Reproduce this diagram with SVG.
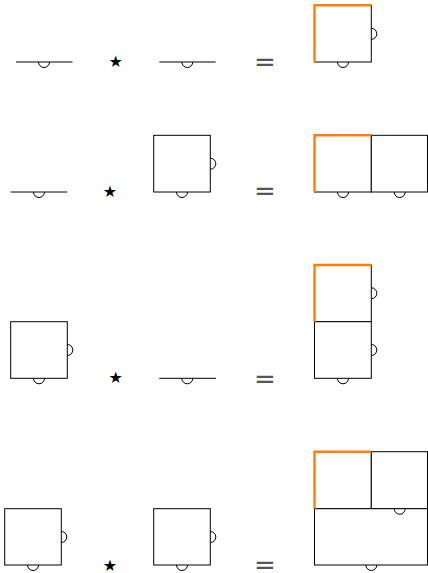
<svg xmlns="http://www.w3.org/2000/svg" width="428" height="573" viewBox="0 0 428 573">
<style>
.ln{fill:none;stroke:#000;stroke-width:1}
.bx{fill:#fff;stroke:#000;stroke-width:1}
.hl{fill:none;stroke:#ff8000;stroke-width:2.4;stroke-linecap:butt}
.op{font-family:"DejaVu Sans",sans-serif;fill:#000;text-anchor:middle}
.eq{font-family:"DejaVu Sans",sans-serif;fill:#555;text-anchor:middle}
</style>
<rect width="428" height="573" fill="#fff"/>

<!-- Row 1 -->
<g id="r1-left">
  <path class="ln" d="M16,62 H72.5 M38.5,62 A5.5,5.5 0 0 0 49.5,62"/>
</g>
<g id="r1-star"><text class="op" x="115.7" y="67" font-size="16">★</text></g>
<g id="r1-mid">
  <path class="ln" d="M159.3,62 H215.7 M181.8,62 A5.5,5.5 0 0 0 192.8,62"/>
</g>
<g id="r1-eq"><text class="eq" x="265" y="71" font-size="26">=</text></g>
<g id="r1-result">
  <rect class="bx" x="314.5" y="5.3" width="56.8" height="56.7"/>
  <path class="ln" d="M371.3,28.3 A5.5,5.5 0 0 1 371.3,39.3 M337.5,62 A5.5,5.5 0 0 0 348.5,62"/>
  <path class="hl" d="M314.5,62 V5.3 H371.3"/>
</g>

<!-- Row 2 -->
<g id="r2-left">
  <path class="ln" d="M10.7,192 H67.3 M33.5,192 A5.5,5.5 0 0 0 44.5,192"/>
</g>
<g id="r2-star"><text class="op" x="110" y="196.5" font-size="16">★</text></g>
<g id="r2-mid">
  <rect class="bx" x="153.7" y="135.3" width="56.6" height="56.7"/>
  <path class="ln" d="M210.3,158.2 A5.5,5.5 0 0 1 210.3,169.2 M176.5,192 A5.5,5.5 0 0 0 187.5,192"/>
</g>
<g id="r2-eq"><text class="eq" x="265" y="200" font-size="26">=</text></g>
<g id="r2-result">
  <rect class="bx" x="314.5" y="135.3" width="56.8" height="56.7"/>
  <rect class="bx" x="371.3" y="135.3" width="56.2" height="56.7"/>
  <path class="ln" d="M337.5,192 A5.5,5.5 0 0 0 348.5,192 M394.2,192 A5.5,5.5 0 0 0 405.2,192"/>
  <path class="hl" d="M314.5,192 V135.3 H371.3"/>
</g>

<!-- Row 3 -->
<g id="r3-left">
  <rect class="bx" x="10.7" y="321.7" width="56.6" height="56.6"/>
  <path class="ln" d="M67.3,344.5 A5.5,5.5 0 0 1 67.3,355.5 M33.5,378.3 A5.5,5.5 0 0 0 44.5,378.3"/>
</g>
<g id="r3-star"><text class="op" x="115.7" y="383" font-size="16">★</text></g>
<g id="r3-mid">
  <path class="ln" d="M159.3,378.3 H216 M181.8,378.3 A5.5,5.5 0 0 0 192.8,378.3"/>
</g>
<g id="r3-eq"><text class="eq" x="265" y="388" font-size="26">=</text></g>
<g id="r3-result">
  <rect class="bx" x="314.5" y="265" width="56.8" height="56.7"/>
  <rect class="bx" x="314.5" y="321.7" width="56.8" height="56.6"/>
  <path class="ln" d="M371.3,287.8 A5.5,5.5 0 0 1 371.3,298.8 M371.3,344.5 A5.5,5.5 0 0 1 371.3,355.5 M337.5,378.3 A5.5,5.5 0 0 0 348.5,378.3"/>
  <path class="hl" d="M314.5,321.7 V265 H371.3"/>
</g>

<!-- Row 4 -->
<g id="r4-left">
  <rect class="bx" x="4.7" y="508.7" width="56.6" height="56.3"/>
  <path class="ln" d="M61.3,531.5 A5.5,5.5 0 0 1 61.3,542.5 M27.5,565 A5.5,5.5 0 0 0 38.5,565"/>
</g>
<g id="r4-star"><text class="op" x="110" y="570.5" font-size="16">★</text></g>
<g id="r4-mid">
  <rect class="bx" x="153.7" y="508.7" width="56.6" height="56.3"/>
  <path class="ln" d="M210.3,531.5 A5.5,5.5 0 0 1 210.3,542.5 M176.5,565 A5.5,5.5 0 0 0 187.5,565"/>
</g>
<g id="r4-eq"><text class="eq" x="265" y="574" font-size="26">=</text></g>
<g id="r4-result">
  <rect class="bx" x="314.5" y="451.7" width="56.8" height="57"/>
  <rect class="bx" x="371.3" y="451.7" width="56.2" height="57"/>
  <rect class="bx" x="314.5" y="508.7" width="113" height="56.3"/>
  <path class="ln" d="M394.2,508.7 A5.5,5.5 0 0 0 405.2,508.7 M365.8,565 A5.5,5.5 0 0 0 376.8,565"/>
  <path class="hl" d="M314.5,508.7 V451.7 H371.3"/>
</g>
</svg>
